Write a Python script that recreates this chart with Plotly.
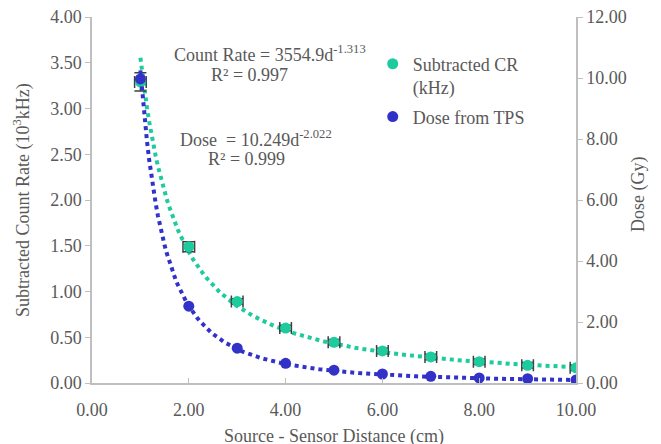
import numpy as np
import plotly.graph_objects as go

distance = [1, 2, 3, 4, 5, 6, 7, 8, 9, 10]
count_rate = [3.29, 1.49, 0.89, 0.60, 0.445, 0.35, 0.285, 0.233, 0.193, 0.166]
count_err_y = [0.10, 0.055, 0.03, 0.03, 0.03, 0.03, 0.03, 0.03, 0.03, 0.03]
count_err_x = [0.12, 0.12, 0.12, 0.12, 0.12, 0.12, 0.12, 0.12, 0.12, 0.12]
dose = [9.97, 2.52, 1.14, 0.645, 0.42, 0.295, 0.22, 0.165, 0.14, 0.098]

# power-law trendline parameters shown on the chart
cr_a, cr_b = 3.5549, -1.313
dose_a, dose_b = 10.249, -2.022

green = "#1DCB9C"
blue = "#3232C8"
gray = "#595959"
font = "Liberation Serif"
fs = 18

d_fit = np.linspace(1, 10, 200)

fig = go.Figure()
fig.add_trace(go.Scatter(x=d_fit, y=cr_a * d_fit ** cr_b, mode="lines",
                         line=dict(color=green, width=4, dash="4px,4px"),
                         showlegend=False, hoverinfo="skip"))
fig.add_trace(go.Scatter(x=d_fit, y=dose_a * d_fit ** dose_b, mode="lines",
                         line=dict(color=blue, width=4, dash="4px,4px"),
                         showlegend=False, hoverinfo="skip", yaxis="y2"))
fig.add_trace(go.Scatter(x=distance, y=count_rate, mode="markers",
                         name="Subtracted CR<br>(kHz)", legendgroup="a",
                         marker=dict(color=green, size=11),
                         error_y=dict(type="data", array=count_err_y, color="#404040",
                                      thickness=1.5, width=6),
                         error_x=dict(type="data", array=count_err_x, color="#404040",
                                      thickness=1.5, width=6)))
fig.add_trace(go.Scatter(x=distance, y=dose, mode="markers", name="Dose from TPS",
                         legendgroup="b",
                         marker=dict(color=blue, size=11), yaxis="y2"))

axis_common = dict(showgrid=False, zeroline=False, showline=True, linecolor="#BFBFBF",
                   linewidth=1.5, tickfont=dict(family=font, size=fs, color=gray),
                   ticks="outside", ticklen=5, tickcolor="#BFBFBF", tickformat=".2f",
                   automargin=False)

fig.update_layout(
    width=661, height=444,
    margin=dict(l=92, r=85, t=17, b=61),
    paper_bgcolor="white", plot_bgcolor="white",
    font=dict(family=font, color=gray, size=fs),
    xaxis=dict(range=[0, 10], dtick=2, **{**axis_common, "ticks": "inside"},
               ticklabelstandoff=10),
    yaxis=dict(range=[0, 4], dtick=0.5, **axis_common),
    yaxis2=dict(range=[0, 12], dtick=2, overlaying="y", side="right", **axis_common),
    legend=dict(x=0.58, y=0.922, xanchor="left", yanchor="top", bgcolor="rgba(0,0,0,0)",
                font=dict(family=font, size=fs, color=gray), itemwidth=30,
                tracegroupgap=3, valign="top"),
    showlegend=True,
)

def ann(text, x, y, **kw):
    fig.add_annotation(x=x, y=y, xref="paper", yref="paper", showarrow=False, text=text,
                       xanchor="center", yanchor="middle",
                       font=dict(family=font, size=fs, color=gray), **kw)

W, H = 484, 366
ann("Count Rate = 3554.9d<sup>-1.313</sup>", (270 - 92) / W, (383 - 53) / H)
ann("R² = 0.997", (249 - 92) / W, (383 - 75) / H)
ann("Dose  = 10.249d<sup>-2.022</sup>", (256 - 92) / W, (383 - 138) / H)
ann("R² = 0.999", (246 - 92) / W, (383 - 159) / H)
ann("Subtracted Count Rate (10<sup>3</sup>kHz)", (22 - 92) / W, 0.5, textangle=-90)
ann("Dose (Gy)", (638 - 92) / W, (383 - 195) / H, textangle=-90)
ann("Source - Sensor Distance (cm)", 0.5, (383 - 436) / H)

fig.write_html("out.html", config={"displayModeBar": False},
               post_script="document.body.style.margin='0';")
